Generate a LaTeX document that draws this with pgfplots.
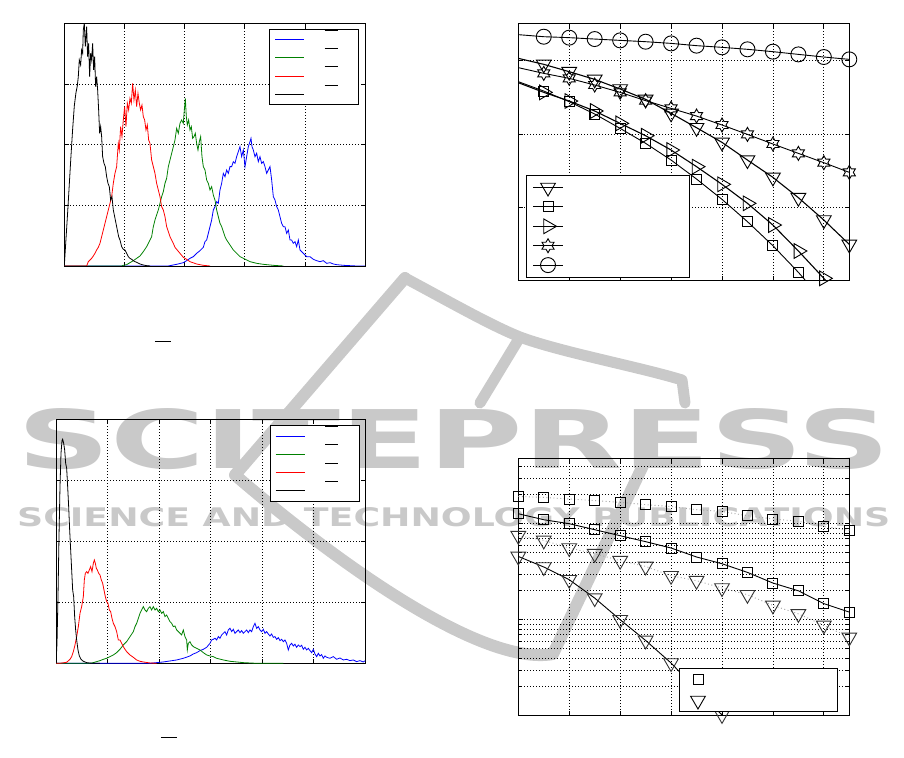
\documentclass[border=0pt]{standalone}
\usepackage{pgfplots}
\pgfplotsset{compat=1.18}
\usepackage{graphicx}
\usepackage{fontspec}
\newfontfamily\wmfont{DejaVu Sans}
\definecolor{mblue}{rgb}{0,0,1}
\definecolor{mgreen}{rgb}{0,0.5,0}
\definecolor{mred}{rgb}{1,0,0}
\definecolor{wm}{gray}{0.79}

\pgfdeclareplotmark{hexagram}{%
  \pgfpathmoveto{\pgfpointpolar{90}{\pgfplotmarksize}}%
  \pgfpathlineto{\pgfpointpolar{120}{0.577*\pgfplotmarksize}}%
  \pgfpathlineto{\pgfpointpolar{150}{\pgfplotmarksize}}%
  \pgfpathlineto{\pgfpointpolar{180}{0.577*\pgfplotmarksize}}%
  \pgfpathlineto{\pgfpointpolar{210}{\pgfplotmarksize}}%
  \pgfpathlineto{\pgfpointpolar{240}{0.577*\pgfplotmarksize}}%
  \pgfpathlineto{\pgfpointpolar{270}{\pgfplotmarksize}}%
  \pgfpathlineto{\pgfpointpolar{300}{0.577*\pgfplotmarksize}}%
  \pgfpathlineto{\pgfpointpolar{330}{\pgfplotmarksize}}%
  \pgfpathlineto{\pgfpointpolar{0}{0.577*\pgfplotmarksize}}%
  \pgfpathlineto{\pgfpointpolar{30}{\pgfplotmarksize}}%
  \pgfpathlineto{\pgfpointpolar{60}{0.577*\pgfplotmarksize}}%
  \pgfpathclose
  \pgfusepathqstroke
}

\newcommand{\tlbar}{\hspace*{20pt}\rule[8.75pt]{13pt}{1pt}\hspace*{16pt}}
\newcommand{\blbar}{\hspace*{20pt}\rule[9.1pt]{13pt}{1pt}\hspace*{16pt}}
\newcommand{\trtext}{\hspace*{120pt}}
\newcommand{\brtext}{\hspace*{121pt}}

\pgfplotsset{
  matlab/.style={
    scale only axis,
    xticklabels={}, yticklabels={},
    axis line style={line width=0.9pt, black},
    tick style={black, line width=0.7pt},
    major grid style={black, line width=0.7pt, dash pattern=on 0.7pt off 2.3pt},
    minor grid style={black, line width=0.7pt, dash pattern=on 0.7pt off 2.3pt},
    tick align=inside,
    legend cell align=left,
  },
  mlegend/.style={draw=black, fill=white, line width=0.9pt, row sep=0pt,
    /tikz/column sep=0pt},
}

\begin{document}
\begin{tikzpicture}
\useasboundingbox (0,0) rectangle (904pt,757pt);

% watermark
\draw[wm, line width=12pt, line cap=round, line join=round]
  (405pt,479pt) -- (235pt,282pt) .. controls (330pt,200pt) and (480pt,90pt) .. (553pt,103pt) -- (648pt,302pt);
\draw[wm, line width=11pt, line cap=round, line join=round]
  (405pt,479pt) .. controls (450pt,455pt) and (490pt,432pt) .. (520pt,420pt)
  .. controls (560pt,405pt) and (640pt,390pt) .. (682pt,377pt) -- (685pt,354pt);
\draw[wm, line width=11pt, line cap=round] (520pt,420pt) -- (480pt,354pt);
\node[anchor=south west, inner sep=0pt, text=wm] at (17pt,287pt)
  {\resizebox{873pt}{60pt}{\wmfont\bfseries SCITEPRESS}};
\node[anchor=south west, inner sep=0pt, text=wm] at (17pt,230pt)
  {\resizebox{873pt}{19pt}{\wmfont\bfseries SCIENCE AND TECHNOLOGY PUBLICATIONS}};

% ---------------- top left ----------------
\begin{axis}[matlab, at={(64.3pt,491pt)}, anchor=south west,
  width=300.7pt, height=242.7pt,
  xmin=43, xmax=945, ymin=0, ymax=728,
  xtick={223.4,403.8,584.2,764.6}, ytick={182,364,546}, grid=major,
  xlabel={\rule{16pt}{1pt}},
  xlabel style={at={(axis description cs:0.328,-0.313)}, anchor=center, inner sep=0pt},
  legend image code/.code={\draw[#1, line width=1pt] (0pt,0pt) -- (29pt,0pt);},
  legend style={mlegend, at={(axis description cs:0.980,0.977)}, anchor=north east,
    inner xsep=5pt, inner ysep=1.15pt,
    nodes={inner sep=0pt, text height=9.15pt, text depth=9.15pt}},
]
\addplot[color=mblue, line width=0.8pt] coordinates {
(43,0)(355,0)(360,1)(380,5)(400,10)(410,16)(420,23)(430,28)(440,38)(450,46)(460,56)(465,73)(470,78)(475,98)(480,118)(485,138)(490,168)(495,178)(500,193)(505,188)(510,228)(515,248)(520,278)(525,268)(530,288)(535,278)(540,298)(545,298)(550,313)(555,308)(560,328)(565,343)(570,358)(575,328)(580,348)(585,298)(590,328)(595,358)(600,373)(603,383)(606,358)(610,348)(615,328)(620,338)(625,313)(630,328)(635,308)(640,313)(645,298)(650,278)(655,288)(660,298)(665,258)(670,208)(675,198)(680,178)(685,168)(690,148)(695,128)(700,118)(705,118)(710,98)(715,108)(720,78)(725,78)(730,68)(735,73)(740,58)(745,78)(750,48)(760,38)(770,28)(780,28)(790,20)(800,16)(810,13)(820,16)(830,8)(840,10)(850,6)(860,4)(870,3)(880,2)(900,1)(920,0)(945,0)};
\addlegendentry{\tlbar}
\addplot[color=mgreen, line width=0.8pt] coordinates {
(43,0)(215,0)(220,2)(230,4)(240,10)(250,16)(260,23)(270,30)(280,43)(290,58)(300,78)(305,88)(310,118)(315,138)(320,153)(325,168)(330,188)(335,208)(340,223)(345,248)(350,263)(355,298)(360,318)(365,338)(370,358)(375,378)(380,413)(385,398)(390,428)(395,438)(400,428)(403,468)(406,503)(409,448)(412,423)(416,438)(420,408)(424,418)(428,383)(432,388)(436,398)(440,368)(444,348)(448,373)(452,388)(456,328)(460,298)(465,288)(470,258)(475,248)(480,228)(485,238)(490,213)(495,198)(500,168)(505,148)(510,128)(515,118)(520,103)(525,88)(530,78)(540,63)(550,48)(560,38)(570,28)(580,23)(590,18)(600,13)(620,8)(640,5)(670,2)(700,0)};
\addlegendentry{\tlbar}
\addplot[color=mred, line width=0.8pt] coordinates {
(43,0)(110,0)(115,13)(120,18)(125,23)(130,30)(135,38)(140,48)(145,56)(150,68)(155,88)(160,108)(165,128)(170,148)(175,168)(180,188)(185,208)(190,248)(195,278)(200,298)(205,368)(208,348)(212,418)(216,388)(220,438)(224,478)(228,418)(232,488)(236,468)(240,503)(244,488)(248,548)(252,498)(256,528)(260,478)(264,518)(268,488)(272,468)(276,483)(280,448)(284,438)(288,408)(292,423)(296,378)(300,368)(305,318)(310,298)(315,278)(320,248)(325,228)(330,208)(335,178)(340,168)(345,148)(350,118)(355,103)(360,88)(365,78)(370,68)(375,56)(380,50)(390,38)(400,26)(410,20)(420,13)(440,6)(460,2)(480,0)};
\addlegendentry{\tlbar}
\addplot[color=black, line width=0.8pt] coordinates {
(43,0)(48,80)(53,160)(58,245)(63,330)(68,410)(73,480)(78,520)(82,540)(85,568)(88,618)(92,603)(95,648)(98,638)(100,708)(103,728)(106,658)(110,718)(113,628)(116,668)(119,568)(122,638)(125,618)(128,668)(131,588)(134,628)(137,538)(140,568)(143,528)(146,468)(149,398)(152,418)(155,388)(158,328)(162,308)(166,298)(170,268)(174,248)(178,238)(182,198)(186,208)(190,168)(194,148)(198,128)(202,108)(206,88)(210,78)(215,58)(220,50)(225,48)(230,38)(235,28)(240,23)(245,20)(250,16)(255,13)(260,11)(270,6)(280,3)(290,1)(300,0)};
\addlegendentry{\tlbar}
\end{axis}

% ---------------- top right ----------------
\begin{axis}[matlab, at={(518.3pt,476.3pt)}, anchor=south west,
  width=331pt, height=257.4pt,
  xmin=0, xmax=13, ymin=0, ymax=3.51,
  xtick={2,4,6,8,10,12}, ytick={1,2,3}, grid=major, clip mode=individual,
  legend image code/.code={\draw[mark repeat=2,mark phase=2,#1] plot coordinates {(0pt,0pt) (15pt,0pt) (30pt,0pt)};},
  legend style={mlegend, at={(axis description cs:0.0242,0.410)}, anchor=north west,
    inner xsep=5.7pt, inner ysep=2.2pt,
    nodes={inner sep=0pt, text height=9.7pt, text depth=9.7pt}},
]
% triangle down
\addplot[black, line width=1.1pt, forget plot] coordinates {(0,3.032)(1,2.95)};
\addplot[black, line width=1.1pt, mark=triangle, mark size=8.5pt, mark options={solid, rotate=180, line width=0.9pt}] coordinates {
(1,2.95)(2,2.85)(3,2.745)(4,2.614)(5,2.473)(6,2.282)(7,2.086)(8,1.886)(9,1.645)(10,1.409)(11,1.132)(12,0.827)(13,0.495)};
\addlegendentry{\trtext}
% squares
\addplot[black, line width=0.9pt, forget plot] coordinates {(0,2.714)(1,2.586)};
\addplot[black, line width=0.9pt, forget plot] coordinates {(11,0.114)(12,-0.286)};
\addplot[black, line width=0.9pt, mark=square, mark size=5pt, mark options={solid, line width=0.9pt}] coordinates {
(1,2.586)(2,2.441)(3,2.273)(4,2.077)(5,1.873)(6,1.645)(7,1.386)(8,1.109)(9,0.805)(10,0.477)(11,0.114)};
\addlegendentry{\trtext}
% triangle right
\addplot[black, line width=1.1pt, forget plot] coordinates {(0,2.70)(1,2.568)};
\addplot[black, line width=1.1pt, forget plot] coordinates {(12,0.032)(13,-0.377)};
\addplot[black, line width=1.1pt, mark=triangle, mark size=8.5pt, mark options={solid, rotate=-90, line width=0.9pt}] coordinates {
(1,2.568)(2,2.45)(3,2.314)(4,2.145)(5,1.977)(6,1.782)(7,1.555)(8,1.314)(9,1.055)(10,0.759)(11,0.405)(12,0.032)};
\addlegendentry{\trtext}
% hexagram
\addplot[black, line width=0.9pt, forget plot] coordinates {(0,2.905)(1,2.827)};
\addplot[black, line width=0.9pt, mark=hexagram, mark size=7pt, mark options={solid, line width=0.9pt}] coordinates {
(1,2.827)(2,2.759)(3,2.668)(4,2.568)(5,2.455)(6,2.35)(7,2.245)(8,2.123)(9,1.995)(10,1.864)(11,1.736)(12,1.609)(13,1.477)};
\addlegendentry{\trtext}
% circles
\addplot[black, line width=0.9pt, forget plot] coordinates {(0,3.355)(1,3.327)};
\addplot[black, line width=0.9pt, mark=o, mark size=7.5pt, mark options={solid, line width=0.9pt}] coordinates {
(1,3.327)(2,3.314)(3,3.295)(4,3.277)(5,3.259)(6,3.236)(7,3.205)(8,3.182)(9,3.155)(10,3.123)(11,3.086)(12,3.05)(13,3.018)};
\addlegendentry{\trtext}
\end{axis}

% ---------------- bottom left ----------------
\begin{axis}[matlab, at={(56pt,93.7pt)}, anchor=south west,
  width=309.3pt, height=244pt,
  xmin=18, xmax=946, ymin=0, ymax=732,
  xtick={172.7,327.3,482,636.7,791.3}, ytick={183,366,549}, grid=major,
  xlabel={\rule{16pt}{1pt}},
  xlabel style={at={(axis description cs:0.365,-0.306)}, anchor=center, inner sep=0pt},
  legend image code/.code={\draw[#1, line width=1pt] (0pt,0pt) -- (29pt,0pt);},
  legend style={mlegend, at={(axis description cs:0.9816,0.9755)}, anchor=north east,
    inner xsep=5pt, inner ysep=1.65pt,
    nodes={inner sep=0pt, text height=9.05pt, text depth=9.05pt}},
]
\addplot[color=mblue, line width=0.8pt] coordinates {
(18,0)(300,0)(320,2)(340,4)(360,7)(380,10)(400,15)(420,22)(430,28)(440,32)(450,38)(460,42)(470,48)(480,60)(485,70)(490,72)(495,75)(500,70)(505,80)(510,75)(515,85)(520,90)(525,95)(530,85)(535,100)(540,105)(545,95)(550,102)(555,90)(560,95)(565,100)(570,92)(575,98)(580,90)(585,95)(590,100)(595,92)(600,100)(605,95)(610,110)(615,120)(620,105)(625,110)(630,100)(635,95)(640,102)(645,90)(650,95)(655,88)(660,82)(665,88)(670,78)(675,80)(680,72)(685,77)(690,68)(695,72)(700,65)(705,70)(710,60)(715,40)(720,55)(725,60)(730,52)(735,57)(740,48)(745,55)(750,50)(755,54)(760,42)(765,48)(770,40)(775,45)(780,38)(785,32)(790,42)(795,28)(800,20)(805,30)(810,22)(815,26)(820,15)(825,22)(830,18)(840,15)(850,20)(860,12)(870,16)(880,10)(890,12)(900,8)(910,10)(920,5)(930,8)(940,4)(946,8)};
\addlegendentry{\blbar}
\addplot[color=mgreen, line width=0.8pt] coordinates {
(18,0)(120,0)(130,2)(140,5)(150,8)(160,12)(170,15)(180,20)(190,25)(200,32)(210,42)(220,55)(230,65)(240,80)(250,95)(255,110)(260,120)(265,135)(270,150)(275,160)(280,170)(285,160)(290,155)(295,165)(300,170)(305,160)(310,170)(315,160)(320,165)(325,155)(330,160)(335,150)(340,155)(345,140)(350,145)(355,135)(360,125)(365,120)(370,110)(375,112)(380,100)(385,95)(390,90)(395,85)(400,100)(405,80)(410,70)(412,40)(415,60)(420,65)(425,55)(430,50)(440,45)(450,40)(460,32)(470,25)(480,22)(490,20)(500,15)(520,10)(540,6)(560,4)(580,2)(620,0)(700,0)};
\addlegendentry{\blbar}
\addplot[color=mred, line width=0.8pt] coordinates {
(18,0)(30,0)(50,3)(60,12)(65,20)(70,35)(75,55)(80,80)(85,110)(90,150)(95,170)(100,200)(103,250)(106,270)(110,275)(114,270)(118,280)(122,290)(126,275)(130,300)(133,310)(136,300)(139,285)(142,280)(146,270)(150,265)(154,250)(158,240)(162,220)(166,200)(170,185)(174,180)(178,160)(182,155)(186,135)(190,120)(195,110)(200,95)(205,70)(210,70)(215,60)(220,50)(225,42)(230,35)(240,25)(250,18)(260,10)(270,6)(280,4)(300,1)(320,0)};
\addlegendentry{\blbar}
\addplot[color=black, line width=0.8pt] coordinates {
(18,0)(21,60)(24,200)(27,380)(30,530)(33,630)(36,668)(38,672)(41,660)(44,640)(47,600)(50,585)(53,530)(56,470)(59,400)(62,340)(65,280)(68,220)(71,200)(74,140)(77,100)(80,70)(84,40)(88,22)(93,12)(100,6)(110,2)(125,0)(150,0)};
\addlegendentry{\blbar}
\end{axis}

% ---------------- bottom right ----------------
\begin{axis}[matlab, at={(518.3pt,41.3pt)}, anchor=south west,
  width=331pt, height=257.4pt,
  xmin=0, xmax=13, ymode=log, ymin=1e-3, ymax=0.48,
  xtick={2,4,6,8,10,12}, grid=both, clip mode=individual,
  legend image code/.code={\draw[mark repeat=2,mark phase=2,#1] plot coordinates {(0pt,0pt) (10pt,0pt) (20pt,0pt)};},
  legend style={mlegend, at={(axis description cs:0.486,0.185)}, anchor=north west,
    inner xsep=11pt, inner ysep=0.5pt,
    nodes={inner sep=0pt, text height=10.5pt, text depth=10.5pt}},
]
\addplot[gray!70, line width=0.9pt, dash pattern=on 1pt off 2.5pt, mark=square, mark size=5pt,
  mark options={solid, draw=black, line width=0.9pt}, forget plot] coordinates {
(0,0.192)(1,0.188)(2,0.181)(3,0.174)(4,0.167)(5,0.158)(6,0.151)(7,0.140)(8,0.134)(9,0.121)(10,0.112)(11,0.106)(12,0.0938)(13,0.0851)};
\addplot[black, line width=0.9pt, mark=square, mark size=5pt,
  mark options={solid, draw=black, line width=0.9pt}, forget plot] coordinates {
(0,0.127)(1,0.110)(2,0.100)(3,0.0866)(4,0.0750)(5,0.0650)(6,0.0558)(7,0.0450)(8,0.0383)(9,0.0311)(10,0.0241)(11,0.0200)(12,0.0147)(13,0.0120)};
\addplot[gray!70, line width=0.9pt, dash pattern=on 1pt off 2.5pt, mark=triangle, mark size=8.5pt,
  mark options={solid, draw=black!80, rotate=180, line width=0.9pt}, forget plot] coordinates {
(0,0.0750)(1,0.0670)(2,0.0558)(3,0.0487)(4,0.0412)(5,0.0359)(6,0.0287)(7,0.0255)(8,0.0214)(9,0.0182)(10,0.0141)(11,0.0115)(12,0.00873)(13,0.00655)};
\addplot[black, line width=0.9pt, mark=triangle, mark size=8.5pt,
  mark options={solid, draw=black!80, rotate=180, line width=0.9pt}, forget plot] coordinates {
(0,0.0456)(1,0.0354)(2,0.0261)(3,0.0168)(4,0.0100)(5,0.00608)(6,0.00354)(7,0.00187)(8,0.00102)};
\addlegendimage{black, only marks, mark=square, mark size=5pt, mark options={solid, line width=0.9pt}}
\addlegendentry{\brtext}
\addlegendimage{black, only marks, mark=triangle, mark size=8.5pt, mark options={solid, rotate=180, line width=0.9pt}}
\addlegendentry{\brtext}
\end{axis}
\end{tikzpicture}
\end{document}
